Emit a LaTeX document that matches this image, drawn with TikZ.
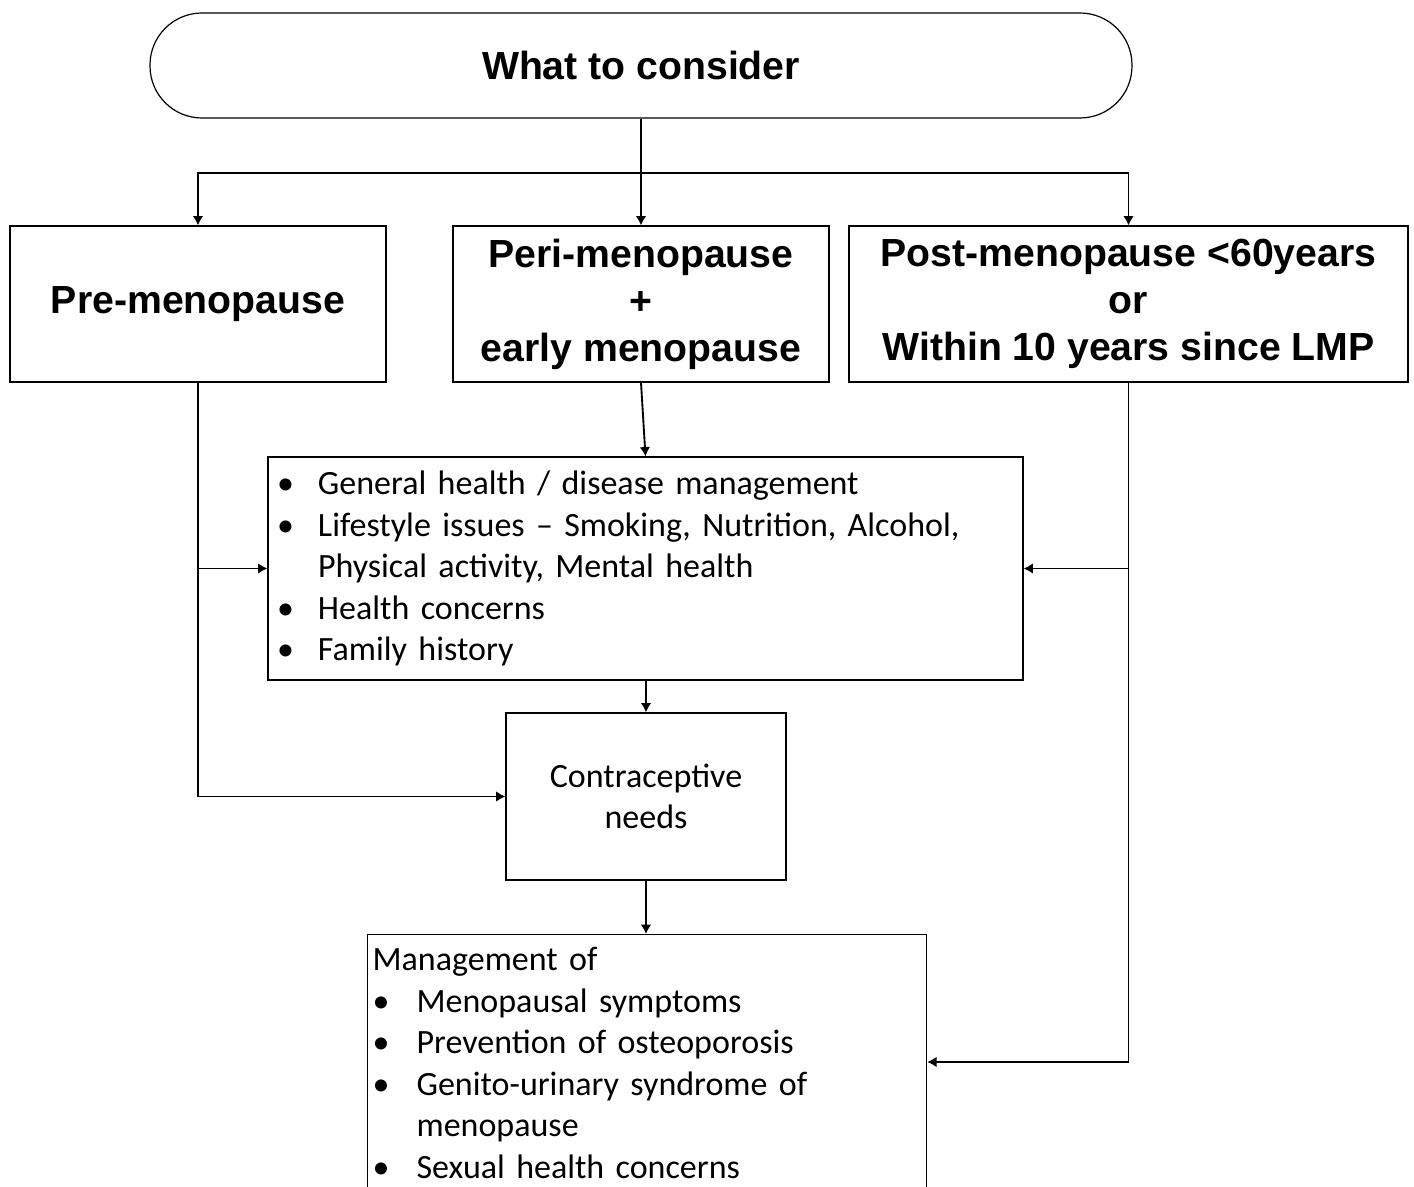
\documentclass[tikz,border=0pt]{standalone}
\usepackage{fontspec}
\setmainfont{Carlito}
\newfontfamily\headfont{Liberation Sans}
\usetikzlibrary{arrows.meta}

\begin{document}
\begin{tikzpicture}[x = 0.75pt, y = -0.75pt, > = {Latex[length = 7pt, width = 8pt]},
	box/.style = {draw, line width = 0.9pt, inner sep = 0pt},
	head/.style = {box, align = center, font = \headfont\bfseries\fontsize{29.4pt}{35.3pt}\selectfont},
	body/.style = {box, font = \fontsize{25.5pt}{31.1pt}\selectfont},
	link/.style = {line width = 1.4pt}]

	% Definitions

	\def\P{0.75pt}		% One pixel
	\def\B{\makebox[30.75pt][l]{\textbullet}}		% Bullet
	\def\I{\hspace*{30.75pt}}		% Hanging indent
	\def\M{\makebox[33pt][l]{\textbullet}}		% Bullet, lower box

	\useasboundingbox (0, 0) rectangle (1414, 1187);
	\clip (0, 0) rectangle (1414, 1187);

	% Top

	\node [head, rounded corners = 39pt, minimum width = 982*\P, minimum height = 105*\P] (consider) at (641, 65.5) {What to consider};

	% Stages

	\node [head, minimum width = 376*\P, minimum height = 156*\P] (pre) at (198, 304) {Pre-menopause};
	\node [head, minimum width = 376*\P, minimum height = 156*\P] (peri) at (641, 304) {Peri-menopause\\+\\early menopause};
	\node [head, minimum width = 559*\P, minimum height = 156*\P] (post) at (1128.5, 304) {Post-menopause <60years\\or\\Within 10 years since LMP};

	% General considerations

	\node [body, align = left, minimum width = 755*\P, minimum height = 223*\P, text width = 737*\P] (general) at (645.5, 568.5)
		{\B General health / disease management\\
		 \B Lifestyle issues – Smoking, Nutrition, Alcohol,\\
		 \I Physical activity, Mental health\\
		 \B Health concerns\\
		 \B Family history};

	\node [body, align = center, minimum width = 280*\P, minimum height = 167*\P] (contra) at (646, 796.5) {Contraceptive\\needs};

	% Management

	\node [body, align = left, anchor = north west, inner ysep = 13*\P, text width = 549*\P, minimum width = 559*\P, inner xsep = 5*\P] (mgmt) at (367, 934)
		{Management of\\
		 \M Menopausal symptoms\\
		 \M Prevention of osteoporosis\\
		 \M Genito-urinary syndrome of\\
		 \hspace*{33pt}menopause\\
		 \M Sexual health concerns\\
		 \strut};

	% Connectors

	\draw [link] (consider.south) -- (consider.south |- 0, 173) coordinate (split);
	\draw [link, ->] (split) -| (pre.north);
	\draw [link, ->] (split) -| (post.north);
	\draw [link, ->] (split) -- (peri.north);

	\draw [link, ->] (peri.south) -- (general.north);
	\draw [link, ->] (pre.south) |- (contra.west);
	\draw [link, ->] (pre.south |- general.west) -- (general.west);
	\draw [link, ->] (post.south) |- (mgmt.east |- 0, 1062);
	\draw [link, ->] (post.south |- general.east) -- (general.east);

	\draw [link, ->] (general.south -| contra.north) -- (contra.north);
	\draw [link, ->] (contra.south) -- (contra.south |- mgmt.north);

\end{tikzpicture}
\end{document}
